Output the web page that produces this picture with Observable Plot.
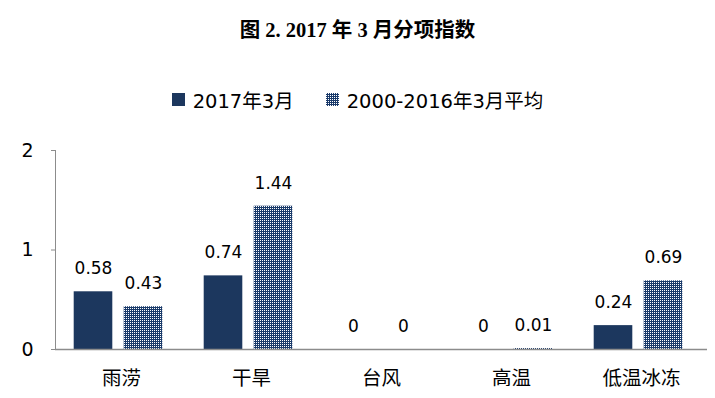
<!DOCTYPE html>
<html>
<head>
<meta charset="utf-8">
<script src="https://cdn.jsdelivr.net/npm/d3@7"></script>
<script src="https://cdn.jsdelivr.net/npm/@observablehq/plot@0.6"></script>
<style>
  body { margin: 0; background: #fff; width: 715px; height: 398px; overflow: hidden; }
  #title { height: 60px; line-height: 60px; text-align: center; font-family: "Liberation Serif", "Noto Sans CJK SC", serif; font-weight: bold; font-size: 20.5px; color: #000; }
  #legend { height: 70px; display: flex; justify-content: center; align-items: center; font-family: "DejaVu Sans", "Noto Sans CJK SC", sans-serif; font-size: 19.5px; color: #000; padding-top: 8px; box-sizing: border-box; }
  .item { display: flex; align-items: center; margin: 0 16px; }
  .sw { width: 13px; height: 13px; margin-right: 8px; display: inline-block; }
</style>
</head>
<body>
<div id="title">图 2. 2017 年 3 月分项指数</div>
<div id="legend"></div>
<div id="chart"></div>
<script>
const categories = ["雨涝", "干旱", "台风", "高温", "低温冰冻"];
const series = ["2017年3月", "2000-2016年3月平均"];
const values2017 = [0.58, 0.74, 0, 0, 0.24];
const valuesAvg = [0.43, 1.44, 0, 0.01, 0.69];
const yTicks = [0, 1, 2];

const navy = "#1c375e";
const patNavy = "#1a3a6a";

const rows = [];
categories.forEach((c, i) => {
  rows.push({cat: c, series: series[0], value: values2017[i]});
  rows.push({cat: c, series: series[1], value: valuesAvg[i]});
});
const r0 = rows.filter(d => d.series === series[0]);
const r1 = rows.filter(d => d.series === series[1]);

// legend
const legend = document.getElementById("legend");
series.forEach((s, i) => {
  const item = document.createElement("div");
  item.className = "item";
  const sw = document.createElement("span");
  sw.className = "sw";
  if (i === 0) sw.style.background = navy;
  else {
    sw.style.background = `url("data:image/svg+xml;utf8,<svg xmlns='http://www.w3.org/2000/svg' width='2' height='2'><rect width='2' height='2' fill='%231a3a6a'/><rect width='1' height='1' fill='white'/></svg>")`;
  }
  item.appendChild(sw);
  const t = document.createElement("span");
  t.textContent = s;
  item.appendChild(t);
  legend.appendChild(item);
});

const barW = 39;
const step = 130.4;
const inset = (step - barW) / 2;
const font = "DejaVu Sans, Noto Sans CJK SC, sans-serif";

const chart = Plot.plot({
  width: 715,
  height: 268,
  marginTop: 20,
  marginBottom: 49,
  marginLeft: 55,
  marginRight: 8,
  style: {fontFamily: font, fontSize: "16px", color: "#000", background: "#fff"},
  x: {domain: categories, padding: 0, label: null},
  y: {domain: [0, 2], label: null},
  marks: [
    Plot.barY(r0, {x: "cat", y: "value", fill: navy, insetLeft: inset, insetRight: inset, dx: -28}),
    Plot.barY(r1, {x: "cat", y: "value", fill: "url(#dotpat)", insetLeft: inset, insetRight: inset, dx: 22}),
    Plot.text(r0, {x: "cat", y: "value", text: d => String(d.value), dx: -28, dy: -23, fontSize: 17, fill: "#000"}),
    Plot.text(r1, {x: "cat", y: "value", text: d => String(d.value), dx: 22, dy: -23, fontSize: 17, fill: "#000"}),
    Plot.ruleY([0], {stroke: "#8c8c8c", strokeWidth: 1.5}),
    Plot.axisY({ticks: yTicks, tickFormat: d => String(d), tickSize: 4, tickPadding: 18, stroke: "#8c8c8c", fontSize: 19}),
    Plot.frame({anchor: "left", stroke: "#8c8c8c"}),
    Plot.axisX({tickSize: 0, tickPadding: 22, fontSize: 19.5})
  ]
});

const svg = d3.select(chart);
const defs = svg.insert("defs", ":first-child");
const pat = defs.append("pattern").attr("id", "dotpat").attr("patternUnits", "userSpaceOnUse").attr("width", 2).attr("height", 2);
pat.append("rect").attr("width", 2).attr("height", 2).attr("fill", patNavy);
pat.append("rect").attr("width", 1).attr("height", 1).attr("fill", "#fff");

document.getElementById("chart").appendChild(chart);
</script>
</body>
</html>
